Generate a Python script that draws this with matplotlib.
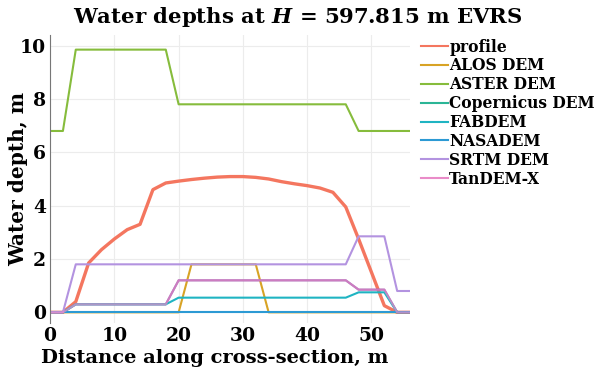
import matplotlib.pyplot as plt
from matplotlib.lines import Line2D

plt.rcParams['font.family'] = 'DejaVu Serif'
plt.rcParams['font.weight'] = 'bold'
plt.rcParams['mathtext.fontset'] = 'custom'
plt.rcParams['mathtext.it'] = 'DejaVu Serif:italic:bold'
plt.rcParams['mathtext.rm'] = 'DejaVu Serif:bold'

# distance along the cross-section, m
distance = [0, 2, 4, 6, 8, 10, 12, 14, 16, 18, 20, 22, 24, 26, 28,
            30, 32, 34, 36, 38, 40, 42, 44, 46, 48, 50, 52, 54, 56]

# water depths, m
profile = [0, 0, 0.4, 1.85, 2.35, 2.75, 3.1, 3.3, 4.6, 4.85, 4.92, 4.98, 5.03, 5.07, 5.09,
           5.09, 5.06, 5.0, 4.9, 4.82, 4.75, 4.66, 4.5, 3.95, 2.75, 1.5, 0.25, 0, 0]
alos = [0, 0, 0, 0, 0, 0, 0, 0, 0, 0, 0, 1.8, 1.8, 1.8, 1.8,
        1.8, 1.8, 0, 0, 0, 0, 0, 0, 0, 0, 0, 0, 0, 0]
aster = [6.8, 6.8, 9.85, 9.85, 9.85, 9.85, 9.85, 9.85, 9.85, 9.85, 7.8, 7.8, 7.8, 7.8, 7.8,
         7.8, 7.8, 7.8, 7.8, 7.8, 7.8, 7.8, 7.8, 7.8, 6.8, 6.8, 6.8, 6.8, 6.8]
copernicus = [0, 0, 0.3, 0.3, 0.3, 0.3, 0.3, 0.3, 0.3, 0.3, 1.2, 1.2, 1.2, 1.2, 1.2,
              1.2, 1.2, 1.2, 1.2, 1.2, 1.2, 1.2, 1.2, 1.2, 0.85, 0.85, 0.85, 0, 0]
fabdem = [0, 0, 0.3, 0.3, 0.3, 0.3, 0.3, 0.3, 0.3, 0.3, 0.55, 0.55, 0.55, 0.55, 0.55,
          0.55, 0.55, 0.55, 0.55, 0.55, 0.55, 0.55, 0.55, 0.55, 0.75, 0.75, 0.75, 0, 0]
nasadem = [0] * 29
srtm = [0, 0, 1.8, 1.8, 1.8, 1.8, 1.8, 1.8, 1.8, 1.8, 1.8, 1.8, 1.8, 1.8, 1.8,
        1.8, 1.8, 1.8, 1.8, 1.8, 1.8, 1.8, 1.8, 1.8, 2.85, 2.85, 2.85, 0.8, 0.8]
tandemx = [0, 0, 0.3, 0.3, 0.3, 0.3, 0.3, 0.3, 0.3, 0.3, 1.2, 1.2, 1.2, 1.2, 1.2,
           1.2, 1.2, 1.2, 1.2, 1.2, 1.2, 1.2, 1.2, 1.2, 0.85, 0.85, 0.85, 0, 0]

names = ['profile', 'ALOS DEM', 'ASTER DEM', 'Copernicus DEM', 'FABDEM',
         'NASADEM', 'SRTM DEM', 'TanDEM-X']
series = [profile, alos, aster, copernicus, fabdem, nasadem, srtm, tandemx]
colors = ['#f4765f', '#d8a325', '#86bc3c', '#2bb596', '#1fb4c2',
          '#2c9ad4', '#b393e0', '#e98bc8']
# Copernicus and TanDEM-X coincide; the overlap reads as a darker violet
line_colors = colors[:3] + ['#8a5cb0'] + colors[4:]

fig = plt.figure(figsize=(5.96, 3.8), dpi=100)
ax = fig.add_axes([0.084, 0.150, 0.604, 0.758])

for i in range(len(names)):
    lw = 2.4 if i == 0 else 1.5
    a = 0.7 if names[i] == 'TanDEM-X' else 1
    ax.plot(distance, series[i], color=line_colors[i], lw=lw, alpha=a)

ax.set_xlim(0, 56)
ax.set_ylim(-0.4, 10.4)
ax.set_xticks([0, 10, 20, 30, 40, 50])
ax.set_yticks([0, 2, 4, 6, 8, 10])
ax.grid(color='#ececec', lw=0.8)
ax.set_axisbelow(True)
for s in ['top', 'right', 'bottom']:
    ax.spines[s].set_visible(False)
ax.spines['left'].set_color('#777777')
ax.tick_params(length=0, labelsize=13.5, pad=3)

fig.text(0.5, 0.955, 'Water depths at $H$ = 597.815 m EVRS', ha='center', va='center',
         fontsize=15.3, fontweight='bold')
ax.set_xlabel('Distance along cross-section, m', fontsize=14, fontweight='bold')
ax.xaxis.set_label_coords(0.456, -0.09)
ax.set_ylabel('Water depth, m', fontsize=14.5, fontweight='bold')
ax.yaxis.set_label_coords(-0.06, 0.5)

handles = [Line2D([], [], color=c, lw=1.5) for c in colors]
ax.legend(handles, names, loc='upper left', bbox_to_anchor=(1.005, 1.02), frameon=False,
          fontsize=11.2, handlelength=1.7, handletextpad=0.1, labelspacing=0.12,
          borderaxespad=0.2)

fig.savefig('out.png', dpi=100)
